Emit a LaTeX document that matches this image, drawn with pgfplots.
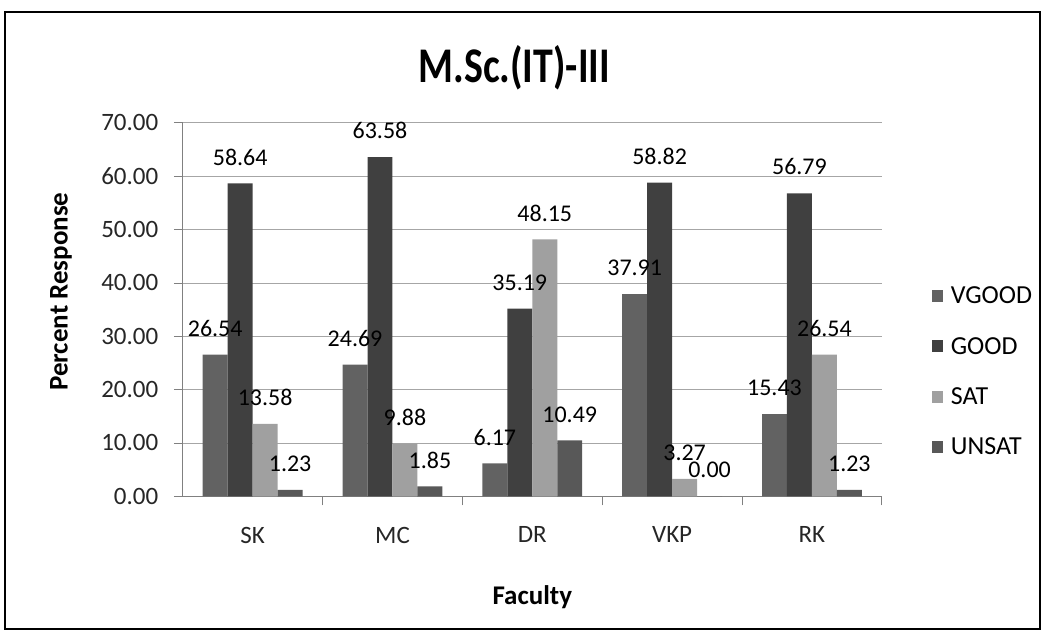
\documentclass[border=0pt]{standalone}
\usepackage{pgfplots}
\pgfplotsset{compat=1.18}
\usepackage{graphicx}
\usepackage{fontspec}
\setmainfont{Carlito}

\definecolor{cvgood}{HTML}{626262}
\definecolor{cgood}{HTML}{404040}
\definecolor{csat}{HTML}{A0A0A0}
\definecolor{cunsat}{HTML}{585858}

\begin{document}
\begin{tikzpicture}
% bounding box: 1043 x 637 px, 1 px = 1 pt, axis lower left at px (183,497)
\path (-183pt,-140pt) rectangle (860pt,497pt);
\draw[line width=2pt] (-178pt,-133pt) rectangle (858pt,485pt);
\node[font=\fontsize{40}{44}\selectfont\bfseries] at (332pt,429pt) {\scalebox{1}[1.25]{M.Sc.(IT)-III}};

\begin{axis}[
  at={(0pt,0pt)}, anchor=south west,
  scale only axis,
  width=700pt, height=374pt,
  ybar=0pt, bar width=25pt,
  xmin=-0.5, xmax=4.5,
  ymin=0, ymax=70,
  xtick={0,1,2,3,4},
  xticklabels={SK,MC,DR,VKP,RK},
  xtick style={draw=none},
  extra x ticks={0.5,1.5,2.5,3.5,4.5},
  extra x tick labels={},
  extra x tick style={xtick style={draw=gray, line width=0.8pt}},
  ytick={0,10,...,70},
  yticklabel style={/pgf/number format/fixed, /pgf/number format/fixed zerofill,
    /pgf/number format/precision=2, xshift=-12pt},
  /pgf/number format/assume math mode=true,
  tick align=outside,
  major tick length=9pt,
  ytick style={draw=gray, line width=0.8pt},
  ymajorgrids=true,
  grid style={gray!70, line width=0.8pt},
  axis lines*=left,
  axis line style={gray, line width=0.8pt},
  tick label style={font=\fontsize{25}{29}\selectfont, text=black!85},
  xticklabel style={yshift=-18pt},
  xlabel={Faculty},
  ylabel={Percent Response},
  xlabel style={font=\fontsize{27}{30}\selectfont\bfseries, at={(axis description cs:0.5,-0.27)}, anchor=center},
  ylabel style={font=\fontsize{27}{30}\selectfont\bfseries, at={(axis description cs:-0.174,0.548)}, anchor=center},
  nodes near coords,
  nodes near coords style={font=\fontsize{24}{28}\selectfont, text=black, anchor=south, inner sep=0pt, yshift=18pt,
    /pgf/number format/fixed, /pgf/number format/fixed zerofill, /pgf/number format/precision=2,
    /pgf/number format/assume math mode=true},
  legend style={draw=none, fill=none, at={(1.067,0.334)}, anchor=west,
    font=\fontsize{26}{30}\selectfont, row sep=28pt, legend cell align=left,
    nodes={inner xsep=8pt}},
  legend image code/.code={\fill[#1] (0pt,-6pt) rectangle (11pt,6pt);},
]
\addplot[fill=cvgood, draw=none] coordinates {(0,26.54) (1,24.69) (2,6.17) (3,37.91) (4,15.43)};
\addplot[fill=cgood, draw=none] coordinates {(0,58.64) (1,63.58) (2,35.19) (3,58.82) (4,56.79)};
\addplot[fill=csat, draw=none] coordinates {(0,13.58) (1,9.88) (2,48.15) (3,3.27) (4,26.54)};
\addplot[fill=cunsat, draw=none] coordinates {(0,1.23) (1,1.85) (2,10.49) (3,0.00) (4,1.23)};
\legend{VGOOD,GOOD,SAT,UNSAT}
\end{axis}
\end{tikzpicture}
\end{document}
